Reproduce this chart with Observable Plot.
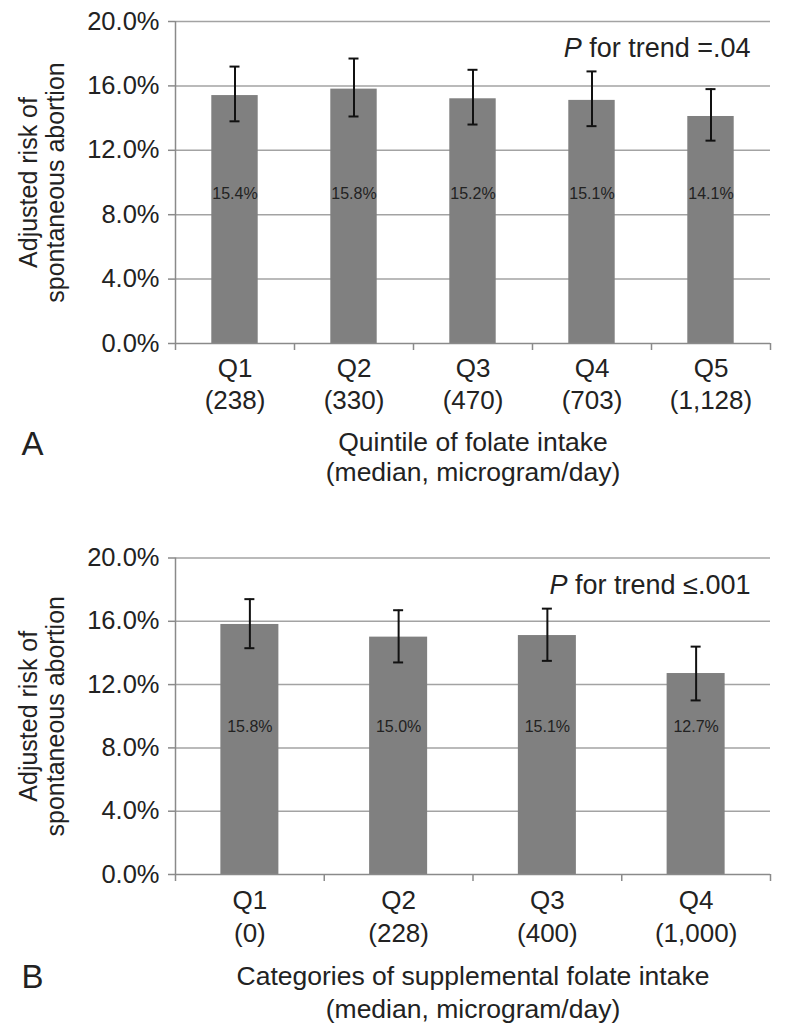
<!DOCTYPE html>
<html><head><meta charset="utf-8">
<script src="https://cdn.jsdelivr.net/npm/d3@7"></script>
<script src="https://cdn.jsdelivr.net/npm/@observablehq/plot@0.6"></script>
<style>
body{margin:0;background:#fff;}
#root{position:relative;width:792px;height:1036px;font-family:"Liberation Sans",Arial,sans-serif;background:#fff;}
.panel{position:absolute;left:0;}
</style></head><body><div id="root"></div>
<script>
// Panel A: quintiles of total folate intake
const catsA = ["Q1", "Q2", "Q3", "Q4", "Q5"];
const mediansA = ["238", "330", "470", "703", "1,128"];
const riskA = [15.4, 15.8, 15.2, 15.1, 14.1];
const lowA = [13.8, 14.1, 13.6, 13.5, 12.6];
const highA = [17.2, 17.7, 17.0, 16.9, 15.8];
const pTextA = "P for trend =.04";
const titleA = "Quintile of folate intake\n(median, microgram/day)";

// Panel B: categories of supplemental folate intake
const catsB = ["Q1", "Q2", "Q3", "Q4"];
const mediansB = ["0", "228", "400", "1,000"];
const riskB = [15.8, 15.0, 15.1, 12.7];
const lowB = [14.3, 13.4, 13.5, 11.0];
const highB = [17.4, 16.7, 16.8, 14.4];
const pTextB = "P for trend \u2264.001";
const titleB = "Categories of supplemental folate intake\n(median, microgram/day)";

const yTicks = [0, 4, 8, 12, 16, 20];
const yTitle = "Adjusted risk of\nspontaneous abortion";

const FONT = '"Liberation Sans", Arial, sans-serif';
const GRID = "#a3a3a3";
const AXIS = "#8a8a8a";
const INK = "#222";

function panel(o) {
  const n = o.cats.length;
  const rows = o.cats.map((c, i) => ({i, cat: c, med: o.medians[i], v: o.risk[i], lo: o.low[i], hi: o.high[i]}));
  const ml = 175, mr = 22, mb = 170;
  const height = o.mt + o.plotH + mb;
  const barFrac = 0.39;
  const center = d => d.i + 0.5;
  const chart = Plot.plot({
    width: 792, height,
    marginTop: o.mt, marginLeft: ml, marginRight: mr, marginBottom: mb,
    style: {fontFamily: FONT, background: "transparent", overflow: "visible", color: INK},
    x: {domain: [0, n]},
    y: {domain: [0, 20]},
    marks: [
      Plot.ruleY(yTicks.filter(t => t > 0), {stroke: GRID, strokeWidth: 1.5}),
      Plot.rectY(rows, {x1: d => d.i + (1 - barFrac) / 2, x2: d => d.i + (1 + barFrac) / 2, y: "v", fill: "#808080"}),
      Plot.ruleY([0], {stroke: AXIS, strokeWidth: 1.5}),
      Plot.ruleX([0], {stroke: AXIS, strokeWidth: 1.5}),
      Plot.axisY({ticks: yTicks, tickSize: 7, tickPadding: 9, tickFormat: d => d.toFixed(1) + "%",
        fontSize: 25.5, stroke: AXIS, strokeWidth: 1.5, fill: INK, label: null}),
      Plot.axisX({ticks: d3.range(n + 1), tickSize: 7, tickFormat: () => "", stroke: AXIS, strokeWidth: 1.5, label: null}),
      Plot.ruleX(rows, {x: center, y1: "lo", y2: "hi", stroke: "#111", strokeWidth: 2}),
      Plot.ruleY(rows, {y: "hi", x1: center, x2: center, insetLeft: -5, insetRight: -5, stroke: "#111", strokeWidth: 2}),
      Plot.ruleY(rows, {y: "lo", x1: center, x2: center, insetLeft: -5, insetRight: -5, stroke: "#111", strokeWidth: 2}),
      Plot.text(rows, {x: center, y: () => o.labelAt, text: d => d.v.toFixed(1) + "%", fontSize: 16, fill: INK}),
      Plot.text(rows, {x: center, frameAnchor: "bottom", text: d => `${d.cat}\n(${d.med})`,
        textAnchor: "middle", lineAnchor: "middle", dy: o.catDy, lineHeight: o.catLH, fontSize: 26, fill: INK}),
      Plot.text([o.title], {x: () => n / 2, frameAnchor: "bottom", text: d => d,
        textAnchor: "middle", lineAnchor: "middle", dy: o.titleDy, lineHeight: o.titleLH, fontSize: 26.5, fill: INK}),
      Plot.text([o.letter], {frameAnchor: "bottom-left", text: d => d, textAnchor: "middle", lineAnchor: "middle",
        dx: 32 - ml, dy: o.letterDy, fontSize: 33, fill: INK}),
      Plot.text([yTitle], {frameAnchor: "left", text: d => d, rotate: -90, textAnchor: "middle", lineAnchor: "middle",
        dx: 41 - ml, lineHeight: 1.08, fontSize: 25, fill: INK}),
      Plot.text([o.pText], {frameAnchor: "top-right", text: d => d, textAnchor: "end", lineAnchor: "middle",
        dx: -20, dy: o.pDy, fontSize: 27, fill: INK})
    ]
  });
  // italic P
  chart.querySelectorAll("text").forEach(t => {
    if (t.textContent === o.pText) {
      const rest = o.pText.slice(1);
      t.textContent = "";
      const ts = document.createElementNS("http://www.w3.org/2000/svg", "tspan");
      ts.setAttribute("font-style", "italic");
      ts.textContent = "P";
      t.appendChild(ts);
      t.appendChild(document.createTextNode(rest));
    }
  });
  const wrap = document.createElement("div");
  wrap.className = "panel";
  wrap.style.top = o.top + "px";
  wrap.appendChild(chart);
  return wrap;
}

const root = document.getElementById("root");
root.appendChild(panel({
  cats: catsA, medians: mediansA, risk: riskA, low: lowA, high: highA, pText: pTextA, title: titleA, letter: "A",
  top: 0, mt: 21, plotH: 322, labelAt: 9.3, catDy: 39, catLH: 1.25, titleDy: 113, titleLH: 1.15, letterDy: 101, pDy: 27
}));
root.appendChild(panel({
  cats: catsB, medians: mediansB, risk: riskB, low: lowB, high: highB, pText: pTextB, title: titleB, letter: "B",
  top: 536, mt: 21.5, plotH: 316.5, labelAt: 9.3, catDy: 40, catLH: 1.27, titleDy: 116, titleLH: 1.25, letterDy: 103, pDy: 27.5
}));
</script></body></html>
